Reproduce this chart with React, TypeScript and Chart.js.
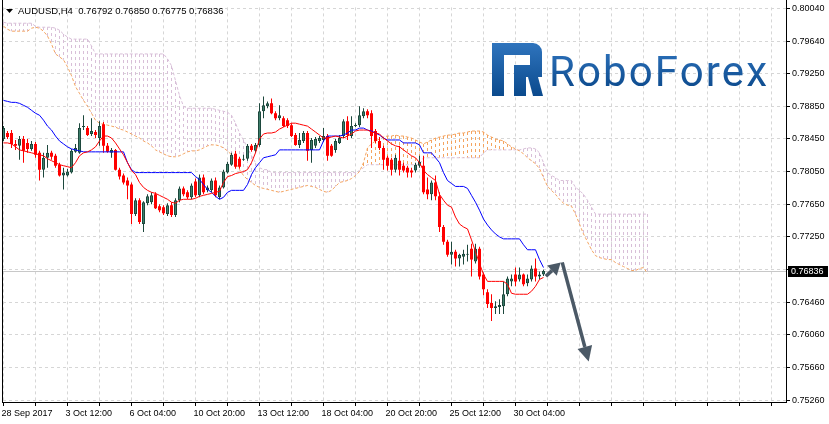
import React, { useEffect, useRef } from 'react';
import { Chart, registerables } from 'chart.js';

Chart.register(...registerables);

const SYMBOL = 'AUDUSD,H4';
const X_LABELS = ['28 Sep 2017', '3 Oct 12:00', '6 Oct 04:00', '10 Oct 20:00', '13 Oct 12:00', '18 Oct 04:00', '20 Oct 20:00', '25 Oct 12:00', '30 Oct 04:00'];
const X_LABEL_STEP = 16;
const X_GRID_STEP = 8;
const Y_LABELS = ['0.80040', '0.79640', '0.79250', '0.78850', '0.78450', '0.78050', '0.77650', '0.77250', '', '0.76460', '0.76060', '0.75660', '0.75260'];
const Y_TOP = 0.8004;
const Y_BOTTOM = 0.7526;

const OPEN = [
  0.78446, 0.78519, 0.78519, 0.78386, 0.78362, 0.78446, 0.78398, 0.78325, 0.78386, 0.78277,
  0.78072, 0.78217, 0.78277, 0.78241, 0.78132, 0.78000, 0.78000, 0.78036, 0.78289, 0.78277,
  0.78591, 0.78579, 0.78507, 0.78531, 0.78458, 0.78627, 0.78362, 0.78277, 0.78313, 0.78072,
  0.78000, 0.77939, 0.77891, 0.77529, 0.77698, 0.77408, 0.77662, 0.77674, 0.77770, 0.77626,
  0.77614, 0.77529, 0.77638, 0.77517, 0.77698, 0.77843, 0.77795, 0.77734, 0.77927, 0.77758,
  0.77975, 0.77819, 0.77819, 0.77939, 0.77734, 0.77855, 0.78036, 0.78132, 0.78265, 0.78205,
  0.78193, 0.78205, 0.78362, 0.78301, 0.78374, 0.78784, 0.78845, 0.78881, 0.78760, 0.78700,
  0.78700, 0.78676, 0.78615, 0.78494, 0.78374, 0.78422, 0.78519, 0.78313, 0.78362, 0.78422,
  0.78434, 0.78482, 0.78362, 0.78313, 0.78398, 0.78482, 0.78664, 0.78482, 0.78603, 0.78615,
  0.78724, 0.78784, 0.78760, 0.78543, 0.78422, 0.78337, 0.78217, 0.78193, 0.78072, 0.78181,
  0.78120, 0.78096, 0.78060, 0.78060, 0.78120, 0.78120, 0.77831, 0.77770, 0.77915, 0.77746,
  0.77372, 0.77191, 0.77034, 0.77070, 0.76986, 0.77010, 0.77034, 0.77107, 0.76950, 0.77107,
  0.76793, 0.76576, 0.76443, 0.76382, 0.76394, 0.76406, 0.76551, 0.76708, 0.76793, 0.76732,
  0.76793, 0.76684, 0.76732, 0.76865, 0.76769, 0.76792,
];
const HIGH = [
  0.78603, 0.78543, 0.78555, 0.78434, 0.78482, 0.78482, 0.78446, 0.78422, 0.78410, 0.78301,
  0.78277, 0.78374, 0.78301, 0.78265, 0.78157, 0.78096, 0.78084, 0.78325, 0.78386, 0.78639,
  0.78736, 0.78603, 0.78700, 0.78555, 0.78664, 0.78652, 0.78398, 0.78337, 0.78325, 0.78096,
  0.78024, 0.77975, 0.77915, 0.77722, 0.77722, 0.77686, 0.77770, 0.77795, 0.77795, 0.77650,
  0.77638, 0.77662, 0.77674, 0.77722, 0.77867, 0.77867, 0.77819, 0.77903, 0.77963, 0.78012,
  0.78012, 0.77879, 0.77963, 0.77975, 0.77879, 0.78072, 0.78169, 0.78277, 0.78301, 0.78229,
  0.78253, 0.78386, 0.78386, 0.78398, 0.78881, 0.78965, 0.78905, 0.78941, 0.78784, 0.78857,
  0.78724, 0.78700, 0.78639, 0.78519, 0.78519, 0.78543, 0.78543, 0.78458, 0.78470, 0.78482,
  0.78579, 0.78507, 0.78386, 0.78446, 0.78494, 0.78688, 0.78724, 0.78724, 0.78639, 0.78845,
  0.78821, 0.78808, 0.78796, 0.78567, 0.78470, 0.78362, 0.78241, 0.78217, 0.78253, 0.78362,
  0.78157, 0.78120, 0.78096, 0.78157, 0.78241, 0.78241, 0.77975, 0.77939, 0.78000, 0.77795,
  0.77396, 0.77215, 0.77191, 0.77094, 0.77046, 0.77094, 0.77155, 0.77167, 0.77167, 0.77131,
  0.76817, 0.76612, 0.76551, 0.76467, 0.76491, 0.76708, 0.76769, 0.76793, 0.76877, 0.76877,
  0.76805, 0.76793, 0.76901, 0.76986, 0.76829, 0.76850,
];
const LOW = [
  0.78422, 0.78446, 0.78337, 0.78313, 0.78193, 0.78157, 0.78277, 0.78301, 0.78217, 0.77939,
  0.77975, 0.78096, 0.78193, 0.78096, 0.77987, 0.77831, 0.77987, 0.78024, 0.78277, 0.78265,
  0.78555, 0.78482, 0.78482, 0.78458, 0.78362, 0.78277, 0.78277, 0.78217, 0.78060, 0.77951,
  0.77891, 0.77710, 0.77408, 0.77505, 0.77408, 0.77312, 0.77638, 0.77650, 0.77590, 0.77553,
  0.77517, 0.77505, 0.77493, 0.77493, 0.77674, 0.77746, 0.77710, 0.77710, 0.77734, 0.77734,
  0.77770, 0.77795, 0.77795, 0.77734, 0.77710, 0.77843, 0.78024, 0.78120, 0.78084, 0.78084,
  0.78181, 0.78181, 0.78289, 0.78277, 0.78350, 0.78700, 0.78821, 0.78748, 0.78676, 0.78676,
  0.78591, 0.78579, 0.78470, 0.78362, 0.78337, 0.78398, 0.78181, 0.78157, 0.78337, 0.78398,
  0.78410, 0.78181, 0.78229, 0.78277, 0.78386, 0.78458, 0.78434, 0.78458, 0.78591, 0.78591,
  0.78700, 0.78700, 0.78337, 0.78398, 0.78313, 0.78072, 0.78060, 0.78000, 0.78036, 0.78000,
  0.78036, 0.77975, 0.77975, 0.78036, 0.78096, 0.77770, 0.77710, 0.77698, 0.77698, 0.77312,
  0.77155, 0.77010, 0.76913, 0.76889, 0.76889, 0.76913, 0.76950, 0.76769, 0.76926, 0.76732,
  0.76539, 0.76382, 0.76225, 0.76310, 0.76310, 0.76310, 0.76527, 0.76648, 0.76648, 0.76708,
  0.76648, 0.76648, 0.76708, 0.76708, 0.76732, 0.76775,
];
const CLOSE = [
  0.78579, 0.78470, 0.78386, 0.78362, 0.78446, 0.78301, 0.78325, 0.78386, 0.78253, 0.78072,
  0.78217, 0.78277, 0.78229, 0.78120, 0.78000, 0.78036, 0.78048, 0.78301, 0.78337, 0.78579,
  0.78603, 0.78494, 0.78543, 0.78494, 0.78603, 0.78362, 0.78289, 0.78313, 0.78072, 0.77987,
  0.77915, 0.77879, 0.77529, 0.77698, 0.77432, 0.77674, 0.77746, 0.77758, 0.77602, 0.77577,
  0.77541, 0.77638, 0.77517, 0.77698, 0.77843, 0.77770, 0.77734, 0.77879, 0.77758, 0.77975,
  0.77795, 0.77855, 0.77939, 0.77758, 0.77855, 0.78048, 0.78144, 0.78253, 0.78108, 0.78108,
  0.78205, 0.78362, 0.78313, 0.78374, 0.78784, 0.78857, 0.78881, 0.78760, 0.78700, 0.78736,
  0.78603, 0.78603, 0.78482, 0.78374, 0.78434, 0.78519, 0.78301, 0.78434, 0.78446, 0.78458,
  0.78482, 0.78241, 0.78241, 0.78422, 0.78458, 0.78664, 0.78494, 0.78603, 0.78615, 0.78736,
  0.78784, 0.78736, 0.78482, 0.78422, 0.78337, 0.78193, 0.78120, 0.78072, 0.78217, 0.78072,
  0.78060, 0.78036, 0.78036, 0.78132, 0.78169, 0.77795, 0.77770, 0.77915, 0.77746, 0.77372,
  0.77191, 0.77034, 0.77070, 0.76986, 0.77034, 0.77046, 0.77046, 0.76974, 0.77107, 0.76769,
  0.76612, 0.76431, 0.76382, 0.76406, 0.76419, 0.76551, 0.76744, 0.76744, 0.76708, 0.76793,
  0.76672, 0.76744, 0.76865, 0.76769, 0.76793, 0.76836,
];
const TENKAN = [
  0.78398, 0.78398, 0.78386, 0.78350, 0.78313, 0.78301, 0.78289, 0.78277, 0.78265, 0.78253,
  0.78241, 0.78205, 0.78181, 0.78157, 0.78132, 0.78120, 0.78108, 0.78096, 0.78157, 0.78241,
  0.78277, 0.78289, 0.78313, 0.78350, 0.78422, 0.78482, 0.78482, 0.78458, 0.78398, 0.78325,
  0.78253, 0.78157, 0.78060, 0.78012, 0.77915, 0.77855, 0.77819, 0.77795, 0.77782, 0.77758,
  0.77734, 0.77710, 0.77674, 0.77662, 0.77698, 0.77710, 0.77710, 0.77710, 0.77722, 0.77746,
  0.77758, 0.77770, 0.77782, 0.77795, 0.77807, 0.77915, 0.77987, 0.78000, 0.78024, 0.78036,
  0.78048, 0.78072, 0.78157, 0.78277, 0.78446, 0.78507, 0.78519, 0.78519, 0.78531, 0.78567,
  0.78591, 0.78615, 0.78639, 0.78639, 0.78627, 0.78615, 0.78603, 0.78567, 0.78531, 0.78494,
  0.78458, 0.78458, 0.78470, 0.78482, 0.78470, 0.78458, 0.78482, 0.78507, 0.78543, 0.78555,
  0.78555, 0.78555, 0.78531, 0.78519, 0.78507, 0.78458, 0.78422, 0.78386, 0.78362, 0.78350,
  0.78313, 0.78277, 0.78241, 0.78217, 0.78157, 0.78060, 0.78012, 0.77975, 0.77939, 0.77770,
  0.77698, 0.77638, 0.77614, 0.77493, 0.77408, 0.77372, 0.77348, 0.77215, 0.77070, 0.76926,
  0.76793, 0.76708, 0.76708, 0.76708, 0.76708, 0.76708, 0.76672, 0.76563, 0.76551, 0.76551,
  0.76551, 0.76551, 0.76588, 0.76648, 0.76732, 0.76756,
];
const KIJUN = [
  0.78917, 0.78905, 0.78893, 0.78893, 0.78881, 0.78857, 0.78833, 0.78796, 0.78760, 0.78736,
  0.78676, 0.78603, 0.78555, 0.78482, 0.78422, 0.78386, 0.78350, 0.78325, 0.78313, 0.78301,
  0.78289, 0.78289, 0.78289, 0.78289, 0.78289, 0.78289, 0.78289, 0.78289, 0.78289, 0.78289,
  0.78289, 0.78157, 0.78072, 0.78036, 0.78036, 0.78036, 0.78036, 0.78036, 0.78036, 0.78036,
  0.78036, 0.78036, 0.78036, 0.78036, 0.78036, 0.78036, 0.78036, 0.78036, 0.77987, 0.77951,
  0.77891, 0.77831, 0.77795, 0.77746, 0.77710, 0.77734, 0.77795, 0.77819, 0.77819, 0.77819,
  0.77819, 0.77891, 0.78012, 0.78096, 0.78157, 0.78217, 0.78229, 0.78241, 0.78253, 0.78313,
  0.78313, 0.78313, 0.78313, 0.78313, 0.78313, 0.78313, 0.78313, 0.78313, 0.78313, 0.78313,
  0.78422, 0.78482, 0.78482, 0.78482, 0.78482, 0.78494, 0.78519, 0.78555, 0.78555, 0.78579,
  0.78579, 0.78555, 0.78543, 0.78519, 0.78494, 0.78458, 0.78434, 0.78434, 0.78434, 0.78434,
  0.78398, 0.78398, 0.78398, 0.78398, 0.78374, 0.78277, 0.78277, 0.78277, 0.78217, 0.78157,
  0.78036, 0.77939, 0.77903, 0.77867, 0.77867, 0.77867, 0.77843, 0.77758, 0.77674, 0.77577,
  0.77469, 0.77396, 0.77336, 0.77287, 0.77251, 0.77227, 0.77227, 0.77227, 0.77227, 0.77227,
  0.77155, 0.77094, 0.77094, 0.77094, 0.76974, 0.76877,
];
// Senkou spans as plotted (already shifted 26 bars ahead)
const SPAN_A = [
  0.79822, 0.79786, 0.79762, 0.79762, 0.79762, 0.79762, 0.79762, 0.79798, 0.79810, 0.79798,
  0.79762, 0.79702, 0.79605, 0.79484, 0.79448, 0.79412, 0.79327, 0.79219, 0.79086, 0.79002,
  0.78917, 0.78845, 0.78760, 0.78676, 0.78639, 0.78627, 0.78615, 0.78603, 0.78591, 0.78567,
  0.78555, 0.78531, 0.78507, 0.78482, 0.78458, 0.78422, 0.78398, 0.78362, 0.78313, 0.78289,
  0.78265, 0.78241, 0.78229, 0.78229, 0.78241, 0.78265, 0.78289, 0.78301, 0.78301, 0.78313,
  0.78337, 0.78362, 0.78374, 0.78374, 0.78362, 0.78337, 0.78301, 0.78253, 0.78157, 0.78072,
  0.78000, 0.77951, 0.77915, 0.77879, 0.77855, 0.77843, 0.77831, 0.77819, 0.77807, 0.77795,
  0.77807, 0.77819, 0.77831, 0.77843, 0.77855, 0.77867, 0.77879, 0.77867, 0.77855, 0.77831,
  0.77807, 0.77795, 0.77819, 0.77867, 0.77915, 0.77927, 0.77939, 0.77963, 0.78000, 0.78048,
  0.78157, 0.78337, 0.78386, 0.78422, 0.78446, 0.78470, 0.78482, 0.78482, 0.78494, 0.78482,
  0.78482, 0.78470, 0.78458, 0.78434, 0.78410, 0.78386, 0.78410, 0.78434, 0.78458, 0.78470,
  0.78482, 0.78494, 0.78494, 0.78507, 0.78519, 0.78519, 0.78531, 0.78543, 0.78543, 0.78543,
  0.78531, 0.78494, 0.78470, 0.78446, 0.78434, 0.78422, 0.78386, 0.78350, 0.78325, 0.78301,
  0.78265, 0.78217, 0.78181, 0.78144, 0.78084, 0.77975, 0.77867, 0.77819, 0.77770, 0.77710,
  0.77662, 0.77638, 0.77626, 0.77529, 0.77408, 0.77287, 0.77191, 0.77094, 0.77022, 0.76998,
  0.76986, 0.76974, 0.76974, 0.76938, 0.76913, 0.76889, 0.76865, 0.76841, 0.76841, 0.76865,
  0.76877, 0.76805,
];
const SPAN_B = [
  0.79871, 0.79859, 0.79859, 0.79859, 0.79859, 0.79859, 0.79859, 0.79859, 0.79822, 0.79810,
  0.79810, 0.79810, 0.79810, 0.79798, 0.79774, 0.79726, 0.79690, 0.79665, 0.79665, 0.79665,
  0.79665, 0.79665, 0.79581, 0.79484, 0.79484, 0.79484, 0.79484, 0.79484, 0.79484, 0.79484,
  0.79484, 0.79484, 0.79484, 0.79484, 0.79484, 0.79484, 0.79484, 0.79484, 0.79484, 0.79484,
  0.79484, 0.79424, 0.79340, 0.79159, 0.78977, 0.78845, 0.78821, 0.78821, 0.78821, 0.78821,
  0.78821, 0.78821, 0.78821, 0.78808, 0.78796, 0.78784, 0.78772, 0.78736, 0.78639, 0.78519,
  0.78434, 0.78337, 0.78241, 0.78157, 0.78096, 0.78072, 0.78072, 0.78036, 0.78036, 0.78036,
  0.78036, 0.78036, 0.78036, 0.78036, 0.78036, 0.78036, 0.78036, 0.78036, 0.78036, 0.78036,
  0.78036, 0.78036, 0.78036, 0.78036, 0.78036, 0.78036, 0.78036, 0.78036, 0.78036, 0.78060,
  0.78096, 0.78132, 0.78132, 0.78132, 0.78132, 0.78132, 0.78132, 0.78132, 0.78132, 0.78132,
  0.78132, 0.78132, 0.78132, 0.78132, 0.78132, 0.78217, 0.78217, 0.78217, 0.78217, 0.78217,
  0.78217, 0.78217, 0.78217, 0.78217, 0.78217, 0.78217, 0.78217, 0.78217, 0.78217, 0.78217,
  0.78277, 0.78313, 0.78313, 0.78313, 0.78313, 0.78313, 0.78313, 0.78313, 0.78313, 0.78313,
  0.78325, 0.78337, 0.78337, 0.78325, 0.78277, 0.78157, 0.78036, 0.78000, 0.77975, 0.77939,
  0.77939, 0.77939, 0.77939, 0.77855, 0.77819, 0.77770, 0.77698, 0.77614, 0.77529, 0.77529,
  0.77529, 0.77529, 0.77529, 0.77529, 0.77529, 0.77529, 0.77529, 0.77529, 0.77529, 0.77529,
  0.77529, 0.77529,
];
// hand-drawn arrow annotation: [bar index, price]
const ARROW_FROM = [135.6, 0.7677];
const ARROW_PEAK = [139.3, 0.7694];
const ARROW_TO = [146.3, 0.7573];

// layout
const W = 829;
const H = 424;
const PLOT_LEFT = 3;
const PLOT_TOP = 3;
const PLOT_RIGHT = 786;
const PLOT_BOTTOM = 402;
const BAR_PX = 4;
const TICK_TOP_PX = 4;
const TICK_BOTTOM_PX = 400;
const PX_PER_UNIT = (TICK_BOTTOM_PX - TICK_TOP_PX) / (Y_TOP - Y_BOTTOM);
const X_MIN = -0.125;
const X_MAX = X_MIN + (PLOT_RIGHT - PLOT_LEFT) / BAR_PX;

const BULL_FILL = '#3d7e6a';
const BULL_EDGE = '#1d483d';
const BEAR = '#ff0000';
const SANDY = '#f4a460';
const THISTLE = '#d8bfd8';
const FONT = 'Liberation Sans';

function drawArrow(ctx: CanvasRenderingContext2D, x0: number, y0: number, x1: number, y1: number, head: number, hw: number) {
  const a = Math.atan2(y1 - y0, x1 - x0);
  const bx = x1 - head * Math.cos(a);
  const by = y1 - head * Math.sin(a);
  ctx.beginPath();
  ctx.moveTo(x0, y0);
  ctx.lineTo(bx, by);
  ctx.stroke();
  ctx.beginPath();
  ctx.moveTo(x1, y1);
  ctx.lineTo(bx + hw * Math.sin(a), by - hw * Math.cos(a));
  ctx.lineTo(bx - hw * Math.sin(a), by + hw * Math.cos(a));
  ctx.closePath();
  ctx.fill();
}

function drawLogo(ctx: CanvasRenderingContext2D) {
  const g = ctx.createLinearGradient(0, 43, 0, 96);
  g.addColorStop(0, '#2f74bd');
  g.addColorStop(1, '#0b4a8d');
  ctx.fillStyle = g;
  ctx.fillRect(492, 43, 12, 53);
  ctx.fillRect(492, 43, 38, 12);
  ctx.beginPath();
  ctx.moveTo(528, 43);
  ctx.arcTo(542, 43, 542, 57, 9);
  ctx.lineTo(542, 77);
  ctx.lineTo(514, 77);
  ctx.lineTo(514, 65);
  ctx.lineTo(530, 65);
  ctx.lineTo(530, 55);
  ctx.lineTo(528, 55);
  ctx.closePath();
  ctx.fill();
  ctx.fillRect(514, 65, 12, 31);
  ctx.beginPath();
  ctx.moveTo(528, 77);
  ctx.lineTo(538, 77);
  ctx.lineTo(543, 96);
  ctx.lineTo(533, 96);
  ctx.closePath();
  ctx.fill();

  const tg = ctx.createLinearGradient(0, 52, 0, 88);
  tg.addColorStop(0, '#2b6fb8');
  tg.addColorStop(1, '#0d4b8e');
  ctx.fillStyle = tg;
  ctx.font = '400 42px Roboto';
  ctx.textBaseline = 'alphabetic';
  ctx.textAlign = 'left';
  const text = 'RoboForex';
  const w = ctx.measureText(text).width;
  const target = 218;
  (ctx as any).letterSpacing = `${Math.max(0, (target - w) / (text.length - 1))}px`;
  ctx.fillText(text, 549, 86);
  (ctx as any).letterSpacing = '0px';
}

const decorPlugin = {
  id: 'decor',
  beforeDatasetsDraw(chart: any) {
    const { ctx, chartArea: a, scales } = chart;
    const y = scales.y;
    const last = CLOSE.length - 1;
    const py = Math.round(y.getPixelForValue(CLOSE[last])) + 0.5;
    ctx.save();
    ctx.strokeStyle = '#c8c8c8';
    ctx.lineWidth = 1;
    ctx.beginPath();
    ctx.moveTo(a.left, py);
    ctx.lineTo(a.right, py);
    ctx.stroke();
    drawLogo(ctx);
    ctx.restore();
  },
  afterDraw(chart: any) {
    const { ctx, scales } = chart;
    const x = scales.x;
    const y = scales.y;
    const last = CLOSE.length - 1;
    ctx.save();
    // frame
    ctx.fillStyle = '#000';
    ctx.fillRect(PLOT_LEFT - 1, 0, 1, PLOT_BOTTOM + 1);
    ctx.fillRect(PLOT_RIGHT, 0, 1, PLOT_BOTTOM + 1);
    ctx.fillRect(PLOT_LEFT - 1, PLOT_BOTTOM, PLOT_RIGHT - PLOT_LEFT + 2, 1);

    // header
    ctx.beginPath();
    ctx.moveTo(6, 9);
    ctx.lineTo(13, 9);
    ctx.lineTo(9.5, 13);
    ctx.closePath();
    ctx.fill();
    ctx.font = `9.5px "${FONT}"`;
    ctx.textBaseline = 'alphabetic';
    ctx.textAlign = 'left';
    const f = (v: number) => v.toFixed(5);
    ctx.fillText(`${SYMBOL}  ${f(OPEN[last])} ${f(HIGH[last])} ${f(LOW[last])} ${f(CLOSE[last])}`, 18, 14);

    // current price label
    const py = Math.round(y.getPixelForValue(CLOSE[last]));
    ctx.fillStyle = '#000';
    ctx.fillRect(PLOT_RIGHT + 2, py - 5, 40, 11);
    ctx.fillStyle = '#fff';
    ctx.font = `9px "${FONT}"`;
    ctx.textBaseline = 'middle';
    ctx.fillText(f(CLOSE[last]), PLOT_RIGHT + 5, py + 0.5);

    // arrow annotation
    const p0 = [x.getPixelForValue(ARROW_FROM[0]), y.getPixelForValue(ARROW_FROM[1])];
    const p1 = [x.getPixelForValue(ARROW_PEAK[0]), y.getPixelForValue(ARROW_PEAK[1])];
    const p2 = [x.getPixelForValue(ARROW_TO[0]), y.getPixelForValue(ARROW_TO[1])];
    ctx.strokeStyle = '#4b5966';
    ctx.fillStyle = '#4b5966';
    ctx.lineWidth = 3.5;
    ctx.lineCap = 'butt';
    drawArrow(ctx, p0[0], p0[1], p1[0], p1[1], 12, 7);
    drawArrow(ctx, p1[0] + 1.5, p1[1], p2[0], p2[1], 15, 7.5);
    ctx.restore();
  },
};

export default function App() {
  const ref = useRef<HTMLCanvasElement | null>(null);

  useEffect(() => {
    document.body.style.margin = '0';
    const canvas = ref.current!;
    const base = canvas.getContext('2d')!;
    // GDI-style dotted histogram line: 3 px on, 3 px off, phase anchored at each bar's top
    const tiles: Record<string, HTMLCanvasElement> = {};
    const tile = (color: string) => {
      if (!tiles[color]) {
        const c = document.createElement('canvas');
        c.width = 1;
        c.height = 6;
        const g = c.getContext('2d')!;
        g.fillStyle = color;
        g.fillRect(0, 0, 1, 3);
        tiles[color] = c;
      }
      return tiles[color];
    };
    const hatch = (color: string, top: number) => {
      const p = base.createPattern(tile(color), 'repeat')!;
      if (typeof DOMMatrix !== 'undefined') p.setTransform(new DOMMatrix([1, 0, 0, 1, 0, Math.round(top)]));
      return p;
    };

    const isBull = (i: number) => CLOSE[i] >= OPEN[i];

    const chart = new Chart(canvas, {
      type: 'bar',
      data: {
        datasets: [
          {
            type: 'line',
            label: 'Tenkan-sen',
            data: TENKAN.map((v, i) => ({ x: i, y: v })),
            borderColor: '#ff0000',
            borderWidth: 1,
            pointRadius: 0,
            tension: 0,
            order: 0,
          } as any,
          {
            type: 'line',
            label: 'Kijun-sen',
            data: KIJUN.map((v, i) => ({ x: i, y: v })),
            borderColor: '#0000ff',
            borderWidth: 1,
            pointRadius: 0,
            tension: 0,
            order: 1,
          } as any,
          {
            type: 'bar',
            label: 'Body',
            data: OPEN.map((o, i) => ({ x: i, y: [o, CLOSE[i]] })),
            backgroundColor: (c: any) => (isBull(c.dataIndex) ? BULL_FILL : BEAR),
            borderColor: (c: any) => (isBull(c.dataIndex) ? BULL_EDGE : BEAR),
            borderWidth: (c: any) => (isBull(c.dataIndex) ? 1 : 0),
            borderSkipped: false,
            barThickness: 3,
            maxBarThickness: 3,
            minBarLength: 1,
            inflateAmount: 0,
            grouped: false,
            order: 2,
          } as any,
          {
            type: 'bar',
            label: 'Wick',
            data: LOW.map((l, i) => ({ x: i, y: [l, HIGH[i]] })),
            backgroundColor: (c: any) => (isBull(c.dataIndex) ? BULL_EDGE : BEAR),
            borderWidth: 0,
            barThickness: 1,
            maxBarThickness: 1,
            inflateAmount: 0,
            grouped: false,
            order: 3,
          } as any,
          {
            type: 'line',
            label: 'Senkou Span A',
            data: SPAN_A.map((v, j) => ({ x: j, y: v })),
            borderColor: SANDY,
            borderWidth: 1,
            borderDash: [3, 2],
            pointRadius: 0,
            tension: 0,
            order: 4,
          } as any,
          {
            type: 'line',
            label: 'Senkou Span B',
            data: SPAN_B.map((v, j) => ({ x: j, y: v })),
            borderColor: THISTLE,
            borderWidth: 1,
            borderDash: [3, 2],
            pointRadius: 0,
            tension: 0,
            order: 5,
          } as any,
          {
            type: 'bar',
            label: 'Cloud',
            data: SPAN_A.map((a, j) => ({ x: j, y: [a, SPAN_B[j]] })),
            backgroundColor: (c: any) => {
              const j = c.dataIndex;
              const color = SPAN_A[j] >= SPAN_B[j] ? SANDY : THISTLE;
              const ys = c.chart && c.chart.scales && c.chart.scales.y;
              const top = ys ? ys.getPixelForValue(Math.max(SPAN_A[j], SPAN_B[j])) : 0;
              return hatch(color, top);
            },
            borderWidth: 0,
            barThickness: 1,
            maxBarThickness: 1,
            inflateAmount: 0,
            grouped: false,
            order: 6,
          } as any,
        ],
      },
      options: {
        responsive: false,
        animation: false,
        devicePixelRatio: 1,
        events: [],
        layout: { padding: { left: PLOT_LEFT, top: PLOT_TOP, right: 0, bottom: 0 } },
        plugins: {
          legend: { display: false },
          tooltip: { enabled: false },
          title: { display: false },
        },
        scales: {
          x: {
            type: 'linear',
            min: X_MIN,
            max: X_MAX,
            offset: false,
            afterFit: (s: any) => {
              s.height = H - PLOT_BOTTOM;
            },
            afterBuildTicks: (s: any) => {
              const t = [];
              for (let v = 0; v <= X_MAX; v += X_GRID_STEP) t.push({ value: v });
              s.ticks = t;
            },
            grid: {
              color: '#d6d6d6',
              lineWidth: 1,
              offset: false,
              drawTicks: true,
              tickLength: 4,
              tickColor: '#000',
              tickBorderDash: [],
            },
            border: { display: false, dash: [3, 3] },
            ticks: {
              autoSkip: false,
              maxRotation: 0,
              minRotation: 0,
              align: 'start',
              labelOffset: -2,
              padding: 2,
              color: '#000',
              font: { family: FONT, size: 9 },
              callback: (v: any) => {
                const n = Math.round(Number(v));
                return n % X_LABEL_STEP === 0 && X_LABELS[n / X_LABEL_STEP] ? X_LABELS[n / X_LABEL_STEP] : '';
              },
            },
          } as any,
          y: {
            type: 'linear',
            position: 'right',
            min: Y_BOTTOM - (PLOT_BOTTOM - TICK_BOTTOM_PX) / PX_PER_UNIT,
            max: Y_TOP + (TICK_TOP_PX - PLOT_TOP) / PX_PER_UNIT,
            afterFit: (s: any) => {
              s.width = W - PLOT_RIGHT;
            },
            afterBuildTicks: (s: any) => {
              const n = Y_LABELS.length - 1;
              s.ticks = Y_LABELS.map((_, k) => ({ value: Y_TOP - (k * (Y_TOP - Y_BOTTOM)) / n }));
            },
            grid: {
              color: '#d6d6d6',
              lineWidth: 1,
              drawTicks: true,
              tickLength: 4,
              tickColor: '#000',
              tickBorderDash: [],
            },
            border: { display: false, dash: [3, 3] },
            ticks: {
              autoSkip: false,
              padding: 2,
              crossAlign: 'near',
              color: '#000',
              font: { family: FONT, size: 9 },
              callback: (_v: any, idx: number) => Y_LABELS[idx] ?? '',
            },
          } as any,
        },
      } as any,
      plugins: [decorPlugin],
    });

    return () => chart.destroy();
  }, []);

  return <canvas ref={ref} width={W} height={H} style={{ display: 'block' }} />;
}
